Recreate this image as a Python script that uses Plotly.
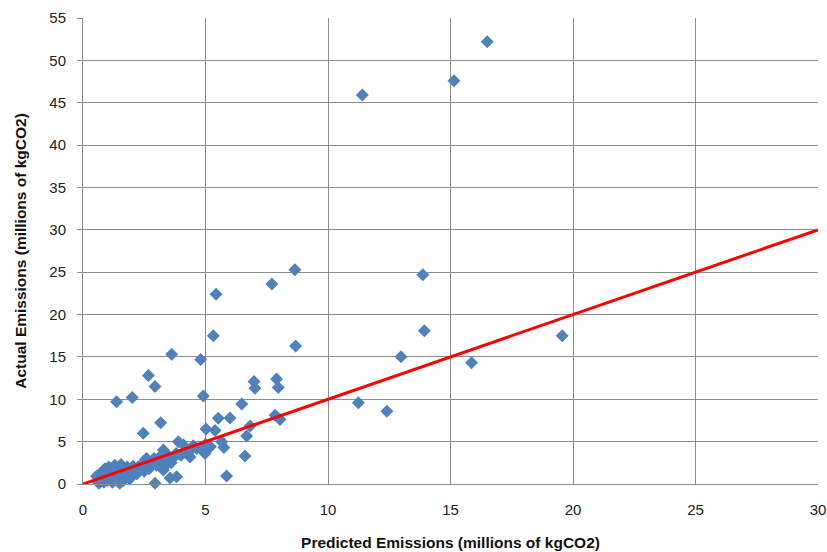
import plotly.graph_objects as go

# Predicted (x) vs actual (y) emissions, millions of kgCO2
predicted = [
    16.5, 15.14, 11.4, 13.87, 13.93, 12.98, 15.86, 19.56, 11.24, 12.4,
    8.65, 7.71, 5.43, 5.32, 8.68, 4.8, 3.62,
    6.98, 7.02, 7.9, 7.97, 4.91, 6.48, 5.52, 6.0, 7.84, 8.04, 5.02, 5.39, 6.82, 6.68,
    2.67, 2.94, 1.37, 2.01, 3.17, 2.46,
    3.89, 4.1, 4.98, 5.75, 6.61, 5.86, 3.28, 2.6, 2.94, 3.82, 3.55, 4.64, 5.66, 4.37, 3.0, 3.28,
    0.55, 0.6, 0.65, 0.7, 0.75, 0.8, 0.85, 0.9, 0.95, 1.0, 1.0, 1.05, 1.1, 1.15, 1.2, 1.25,
    1.3, 1.35, 1.4, 1.45, 1.5, 1.5, 1.55, 1.6, 1.65, 1.7, 1.75, 1.8, 1.85, 1.9, 1.95, 2.0,
    2.05, 2.1, 2.2, 2.25, 2.3, 2.4, 2.5, 2.55, 2.6, 2.7, 2.8, 2.9, 3.0, 3.1, 3.2, 3.3,
    3.4, 3.5, 3.6, 3.7, 3.8, 4.0, 4.2, 4.4, 4.5, 4.8, 5.0, 5.2,
]
actual = [
    52.2, 47.6, 45.9, 24.7, 18.1, 15.03, 14.3, 17.5, 9.6, 8.6,
    25.3, 23.6, 22.4, 17.5, 16.3, 14.7, 15.3,
    12.1, 11.3, 12.4, 11.4, 10.4, 9.45, 7.75, 7.8, 8.1, 7.6, 6.5, 6.3, 6.85, 5.67,
    12.8, 11.5, 9.7, 10.2, 7.24, 5.98,
    5.0, 4.6, 3.6, 4.3, 3.3, 0.94, 4.0, 3.0, 0.1, 0.86, 0.7, 4.2, 5.0, 3.2, 2.4, 1.65,
    0.9, 0.3, 0.1, 1.2, 0.6, 1.5, 0.2, 1.8, 0.9, 0.4, 1.3, 2.0, 0.7, 1.6, 0.2, 1.1,
    2.2, 0.5, 1.4, 1.9, 0.1, 0.9, 2.3, 1.2, 0.4, 1.7, 0.8, 2.0, 1.3, 0.6, 1.8, 1.0,
    2.1, 1.5, 1.2, 2.0, 1.7, 2.3, 1.5, 2.9, 2.1, 1.8, 2.6, 3.0, 2.2, 2.7, 3.4, 2.0,
    2.8, 3.3, 2.5, 3.1, 3.6, 3.4, 3.8, 4.0, 4.5, 4.2, 4.7, 4.4,
]

# y = x reference line
line_x = [0, 30]
line_y = [0, 30]

x_ticks = [0, 5, 10, 15, 20, 25, 30]
y_ticks = [0, 5, 10, 15, 20, 25, 30, 35, 40, 45, 50, 55]

fig = go.Figure()
fig.add_trace(go.Scatter(
    x=predicted, y=actual, mode="markers",
    marker=dict(symbol="diamond", size=10, color="#4F81BD", line=dict(width=0)),
    showlegend=False, cliponaxis=False,
))
fig.add_trace(go.Scatter(
    x=line_x, y=line_y, mode="lines",
    line=dict(color="#FF0000", width=3),
    showlegend=False,
))

tick_font = dict(family="Liberation Sans, Arial, sans-serif", size=15, color="#222222")
title_font = dict(family="Liberation Sans, Arial, sans-serif", size=15.5, color="#111111")

fig.update_layout(
    width=827, height=552,
    margin=dict(l=83, r=9, t=18, b=68, autoexpand=False),
    paper_bgcolor="white", plot_bgcolor="white",
    xaxis=dict(
        range=[0, 30], tickvals=x_ticks, ticktext=[str(v) for v in x_ticks],
        showgrid=True, gridcolor="#8C8C8C", gridwidth=1,
        showline=True, linecolor="#8C8C8C", linewidth=1,
        zeroline=False, ticks="", tickfont=tick_font, automargin=False,
        ticklabelstandoff=12,
        title=dict(text="<b>Predicted Emissions (millions of kgCO2)</b>", font=title_font, standoff=20),
    ),
    yaxis=dict(
        range=[0, 55], tickvals=y_ticks, ticktext=[str(v) for v in y_ticks],
        showgrid=True, gridcolor="#8C8C8C", gridwidth=1,
        showline=True, linecolor="#8C8C8C", linewidth=1,
        zeroline=False, ticks="outside", ticklen=5, tickcolor="#8C8C8C",
        tickfont=tick_font, automargin=False, ticklabelstandoff=8,
        title=dict(text="<b>Actual Emissions (millions of kgCO2)</b>", font=title_font, standoff=18),
    ),
)

fig.write_html(
    "out.html",
    config={"displayModeBar": False},
    post_script="document.body.style.margin='0';document.body.style.overflow='hidden';",
)
